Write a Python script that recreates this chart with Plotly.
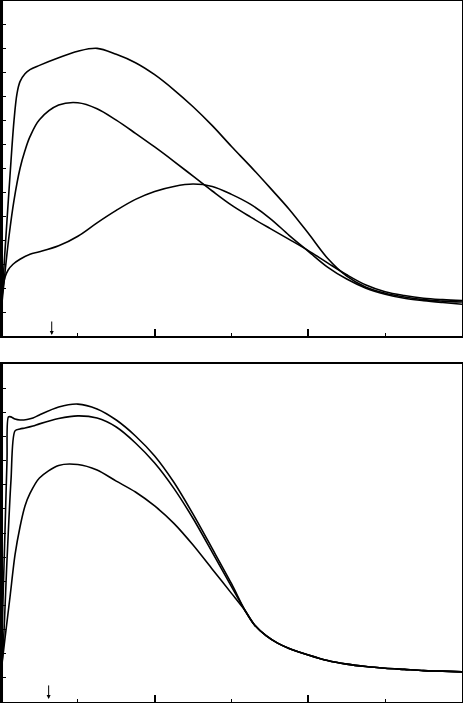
import plotly.graph_objects as go
from plotly.subplots import make_subplots

# Panel superior: tres curvas
A_X = [0, 0.052, 0.117, 0.169, 0.208, 0.247, 0.312, 0.377, 0.5, 0.75, 1.0, 1.25, 1.5, 1.75,
       2.0, 2.25, 2.5, 2.75, 3.0, 3.25, 3.5, 3.75, 4.0, 4.25, 4.5, 4.75, 5.0, 5.25, 5.5,
       5.75, 6.0]
A_Y = [1.0, 3.58, 6.71, 9.0, 10.13, 10.63, 10.96, 11.13, 11.31, 11.63, 11.90, 12.02, 11.77,
       11.42, 10.92, 10.29, 9.58, 8.79, 7.92, 7.08, 6.2, 5.3, 4.29, 3.25, 2.5, 2.04, 1.79,
       1.63, 1.52, 1.46, 1.42]

B_X = [0, 0.052, 0.104, 0.169, 0.247, 0.312, 0.377, 0.5, 0.75, 1.0, 1.25, 1.5, 1.75, 2.0,
       2.25, 2.5, 2.75, 3.0, 3.25, 3.5, 3.75, 4.0, 4.25, 4.5, 4.75, 5.0, 5.25, 5.5, 5.75, 6.0]
B_Y = [1.0, 2.67, 4.17, 5.67, 7.0, 7.75, 8.33, 9.04, 9.65, 9.75, 9.5, 9.02, 8.47, 7.9,
       7.3, 6.68, 6.06, 5.47, 4.97, 4.5, 4.04, 3.57, 3.06, 2.56, 2.13, 1.85, 1.69, 1.58,
       1.52, 1.48]

C_X = [0, 0.026, 0.052, 0.091, 0.156, 0.247, 0.377, 0.5, 0.75, 1.0, 1.25, 1.5, 1.75, 2.0,
       2.25, 2.5, 2.75, 3.0, 3.25, 3.5, 3.75, 4.0, 4.25, 4.5, 4.75, 5.0, 5.25, 5.5, 5.75, 6.0]
C_Y = [1.0, 2.04, 2.46, 2.75, 3.0, 3.21, 3.42, 3.52, 3.77, 4.17, 4.73, 5.25, 5.71, 6.04,
       6.25, 6.35, 6.25, 5.92, 5.5, 4.92, 4.21, 3.54, 2.88, 2.38, 2.0, 1.75, 1.58, 1.48,
       1.40, 1.33]

# Panel inferior: tres curvas que se juntan en una cola común
D_X = [0, 0.026, 0.052, 0.078, 0.097, 0.130, 0.182, 0.247, 0.338, 0.416, 0.5, 0.75, 1.0,
       1.25, 1.5, 1.75, 2.0, 2.25, 2.5, 2.75, 3.0]
D_Y = [1.24, 4.23, 7.13, 10.02, 11.81, 11.81, 11.72, 11.68, 11.70, 11.76, 11.89, 12.22,
       12.34, 12.14, 11.68, 11.02, 10.19, 9.1, 7.78, 6.35, 4.9]

E_X = [0, 0.026, 0.078, 0.130, 0.182, 0.247, 0.312, 0.416, 0.5, 0.75, 1.0, 1.25, 1.5, 1.75,
       2.0, 2.25, 2.5, 2.75, 3.0]
E_Y = [1.24, 2.15, 5.88, 9.2, 11.23, 11.31, 11.35, 11.43, 11.52, 11.74, 11.85, 11.76, 11.39,
       10.73, 9.9, 8.85, 7.6, 6.2, 4.78]

F_X = [0, 0.052, 0.117, 0.182, 0.247, 0.312, 0.377, 0.5, 0.75, 1.0, 1.25, 1.5, 1.75, 2.0,
       2.25, 2.5, 2.75, 3.0]
F_Y = [1.24, 2.65, 4.35, 6.09, 7.25, 8.12, 8.64, 9.28, 9.80, 9.84, 9.61, 9.15, 8.7, 8.12,
       7.4, 6.5, 5.5, 4.5]

TAIL_X = [3.18, 3.3, 3.45, 3.6, 3.75, 4.0, 4.25, 4.5, 4.75, 5.0, 5.25, 5.5, 5.75, 6.0]
TAIL_Y = [3.77, 3.19, 2.75, 2.44, 2.22, 1.95, 1.72, 1.57, 1.47, 1.40, 1.35, 1.30, 1.28, 1.25]

# Flechas sobre el eje x
ARROW_TOP_X = 0.66
ARROW_BOT_X = 0.62

fig = make_subplots(rows=2, cols=1)

for xs, ys in [(A_X, A_Y), (B_X, B_Y), (C_X, C_Y)]:
    fig.add_trace(go.Scatter(x=xs, y=ys, mode='lines',
                             line=dict(color='black', width=1.6, shape='spline', smoothing=1.0)),
                  row=1, col=1)

for xs, ys in [(D_X, D_Y), (E_X, E_Y), (F_X, F_Y)]:
    fig.add_trace(go.Scatter(x=xs + TAIL_X, y=ys + TAIL_Y, mode='lines',
                             line=dict(color='black', width=1.6, shape='spline', smoothing=0.8)),
                  row=2, col=1)

axis_common = dict(showline=True, linecolor='black', linewidth=2, mirror=True,
                   showgrid=False, zeroline=False, showticklabels=False)

fig.update_xaxes(range=[0, 6], ticks='inside', tick0=0, dtick=2, ticklen=7,
                 tickwidth=1.5, tickcolor='black',
                 minor=dict(ticks='inside', dtick=1, tick0=0, ticklen=3,
                            tickwidth=1, tickcolor='black'),
                 domain=[0.0022, 0.9978], **axis_common)
fig.update_yaxes(range=[0, 14], ticks='inside', tick0=0, dtick=1, ticklen=5,
                 tickwidth=1, tickcolor='black', **axis_common)

fig.update_layout(
    yaxis=dict(domain=[0.522, 0.9986]),
    yaxis2=dict(domain=[0.0014, 0.4822]),
)

# borde izquierdo más grueso
for y0, y1 in [(0.522, 0.9986), (0.0014, 0.4822)]:
    fig.add_shape(type='line', xref='paper', yref='paper', x0=0.0022, x1=0.0022,
                  y0=y0, y1=y1, line=dict(color='black', width=4))

for ref, ax_x, tail_y, head_y in [('', ARROW_TOP_X, 0.67, 0.04),
                                  ('2', ARROW_BOT_X, 0.75, 0.12)]:
    fig.add_annotation(x=ax_x, y=head_y, ax=ax_x, ay=tail_y,
                       xref='x' + ref, yref='y' + ref, axref='x' + ref, ayref='y' + ref,
                       showarrow=True, arrowhead=2, arrowsize=0.8, arrowwidth=1,
                       arrowcolor='black', text='')

fig.update_layout(
    width=463, height=703, autosize=False,
    margin=dict(t=0, b=0, l=0, r=0),
    showlegend=False,
    plot_bgcolor='white', paper_bgcolor='white',
)

fig.write_html("out.html",
               config={'displayModeBar': False},
               post_script="document.body.style.margin='0';"
                           "document.body.style.overflow='hidden';")
